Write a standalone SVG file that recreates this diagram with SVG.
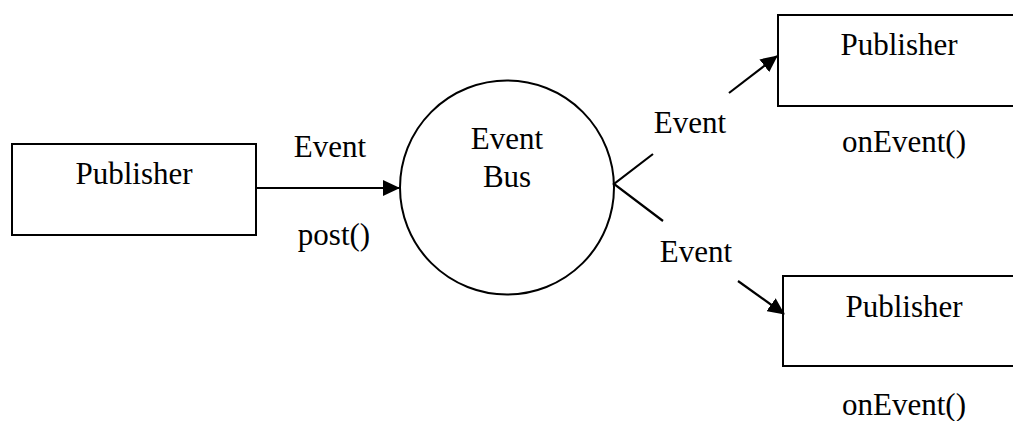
<svg xmlns="http://www.w3.org/2000/svg" width="1013" height="421" viewBox="0 0 1013 421">
<style>
text{font-family:"Liberation Serif","Times New Roman",serif;font-size:31px;fill:#000;text-anchor:middle}
.shape{fill:#fff;stroke:#000;stroke-width:2}
.conn{fill:none;stroke:#000;stroke-width:2.2}
</style>
<defs>
<marker id="arr" markerWidth="17" markerHeight="16" refX="16" refY="8" orient="auto" markerUnits="userSpaceOnUse">
<path d="M0,0 L17,8 L0,16 Z" fill="#000"/>
</marker>
</defs>
<rect width="1013" height="421" fill="#fff"/>
<g id="publisher-left">
<rect class="shape" x="12" y="144" width="244" height="91"/>
<text x="134" y="184">Publisher</text>
</g>
<g id="event-bus">
<circle class="shape" cx="507" cy="187.5" r="107"/>
<text x="507" y="149">Event</text>
<text x="507" y="187">Bus</text>
</g>
<g id="subscriber-top">
<rect class="shape" x="778" y="15" width="250" height="91"/>
<text x="899" y="55">Publisher</text>
<text x="904" y="152">onEvent()</text>
</g>
<g id="subscriber-bottom">
<rect class="shape" x="783" y="276" width="250" height="90"/>
<text x="904" y="317">Publisher</text>
<text x="904" y="415">onEvent()</text>
</g>
<g id="connectors">
<line class="conn" x1="256" y1="188" x2="399" y2="188" marker-end="url(#arr)"/>
<text x="330" y="157">Event</text>
<text x="334" y="245">post()</text>
<polyline class="conn" points="653,154 614,184 663,221"/>
<text x="690" y="133">Event</text>
<line class="conn" x1="729" y1="93" x2="777" y2="56" marker-end="url(#arr)"/>
<text x="696" y="262">Event</text>
<line class="conn" x1="738" y1="281" x2="784" y2="314" marker-end="url(#arr)"/>
</g>
</svg>
